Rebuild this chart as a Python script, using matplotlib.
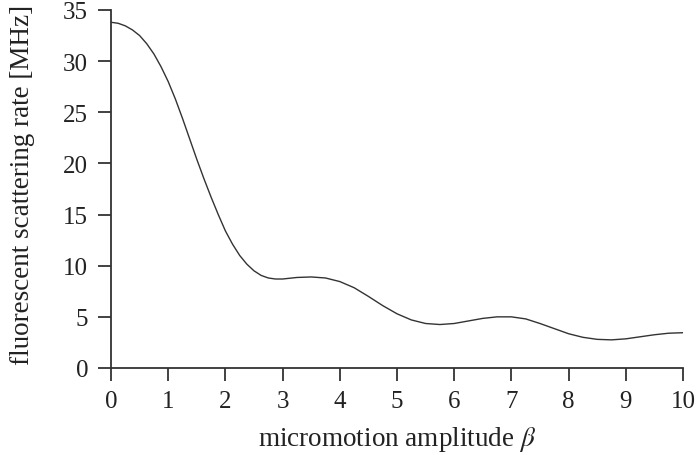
import matplotlib
matplotlib.use("Agg")
import matplotlib.pyplot as plt

# micromotion amplitude beta vs fluorescent scattering rate
beta = [0, 0.125, 0.25, 0.375, 0.5, 0.625, 0.75, 0.875, 1.0, 1.125,
        1.25, 1.375, 1.5, 1.625, 1.75, 1.875, 2.0, 2.125, 2.25, 2.375,
        2.5, 2.625, 2.75, 2.875, 3.0, 3.25, 3.5, 3.75, 4.0, 4.25,
        4.5, 4.75, 5.0, 5.25, 5.5, 5.75, 6.0, 6.25, 6.5, 6.75,
        7.0, 7.25, 7.5, 7.75, 8.0, 8.25, 8.5, 8.75, 9.0, 9.25,
        9.5, 9.75, 10.0]
rate = [33.8, 33.7, 33.45, 33.05, 32.5, 31.7, 30.7, 29.45, 28.0, 26.3,
        24.4, 22.4, 20.4, 18.5, 16.7, 15.0, 13.4, 12.1, 11.0, 10.15,
        9.5, 9.05, 8.8, 8.7, 8.7, 8.85, 8.9, 8.8, 8.45, 7.85,
        7.0, 6.1, 5.3, 4.7, 4.35, 4.25, 4.35, 4.6, 4.85, 5.0,
        5.0, 4.8, 4.35, 3.85, 3.35, 3.0, 2.8, 2.75, 2.85, 3.05,
        3.25, 3.4, 3.45]

x_ticks = list(range(0, 11))
y_ticks = list(range(0, 36, 5))

plt.rcParams['font.family'] = ['Liberation Serif', 'DejaVu Serif']
plt.rcParams['mathtext.fontset'] = 'stix'

fig = plt.figure(figsize=(6.96, 4.56), dpi=100)
ax = fig.add_axes([0.1595, 0.1908, 0.8218, 0.7851])

ax.plot(beta, rate, color='#333333', linewidth=1.0)

ax.set_xlim(0, 10)
ax.set_ylim(0, 35)
ax.set_xticks(x_ticks)
ax.set_yticks(y_ticks)

for side in ['top', 'right']:
    ax.spines[side].set_visible(False)
for side in ['left', 'bottom']:
    ax.spines[side].set_linewidth(1.3)
    ax.spines[side].set_color('#333333')

ax.tick_params(direction='out', length=9.5, width=1.3, color='#333333',
               labelsize=18, labelcolor='#222222')
ax.tick_params(axis='x', pad=6)
ax.tick_params(axis='y', pad=7)

ax.set_xlabel(r'micromotion amplitude $\beta$', fontsize=19.5, color='#222222', va='baseline')
ax.xaxis.set_label_coords(0.5, -0.214)
ax.set_ylabel('fluorescent scattering rate [MHz]', fontsize=19.5, color='#222222', va='center')
ax.yaxis.set_label_coords(-0.1545, 0.513)

plt.savefig("out.png", dpi=100)
